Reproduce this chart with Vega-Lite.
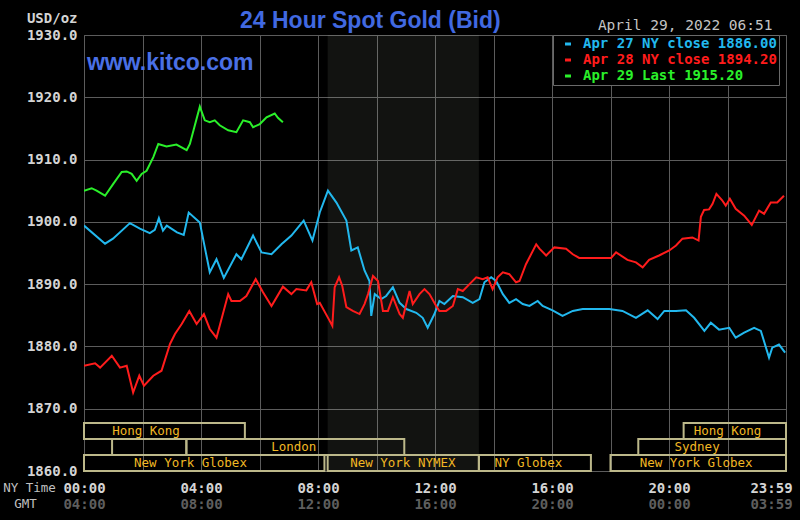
{
  "$schema": "https://vega.github.io/schema/vega-lite/v6.json",
  "width": 702,
  "height": 436,
  "autosize": {"type": "none"},
  "padding": {"left": 84, "top": 35, "right": 14, "bottom": 49},
  "background": "black",
  "title": {
    "text": "24 Hour Spot Gold (Bid)",
    "anchor": "start",
    "frame": "group",
    "dx": 156,
    "offset": -40,
    "baseline": "alphabetic",
    "font": "Liberation Sans",
    "fontSize": 23,
    "fontWeight": "bold",
    "color": "#4169e1"
  },
  "datasets": {
    "prices": [
      {"series": "Apr 27 NY close 1886.00", "t": 0, "p": 1899.4},
      {"series": "Apr 27 NY close 1886.00", "t": 0.72, "p": 1896.5},
      {"series": "Apr 27 NY close 1886.00", "t": 0.99, "p": 1897.3},
      {"series": "Apr 27 NY close 1886.00", "t": 1.57, "p": 1899.8},
      {"series": "Apr 27 NY close 1886.00", "t": 1.91, "p": 1898.9},
      {"series": "Apr 27 NY close 1886.00", "t": 2.25, "p": 1898.2},
      {"series": "Apr 27 NY close 1886.00", "t": 2.42, "p": 1898.7},
      {"series": "Apr 27 NY close 1886.00", "t": 2.56, "p": 1900.6},
      {"series": "Apr 27 NY close 1886.00", "t": 2.7, "p": 1898.6},
      {"series": "Apr 27 NY close 1886.00", "t": 2.83, "p": 1899.4},
      {"series": "Apr 27 NY close 1886.00", "t": 3.18, "p": 1898.3},
      {"series": "Apr 27 NY close 1886.00", "t": 3.41, "p": 1897.9},
      {"series": "Apr 27 NY close 1886.00", "t": 3.58, "p": 1901.5},
      {"series": "Apr 27 NY close 1886.00", "t": 3.96, "p": 1899.9},
      {"series": "Apr 27 NY close 1886.00", "t": 4.13, "p": 1895.9},
      {"series": "Apr 27 NY close 1886.00", "t": 4.3, "p": 1891.9},
      {"series": "Apr 27 NY close 1886.00", "t": 4.53, "p": 1894.0},
      {"series": "Apr 27 NY close 1886.00", "t": 4.78, "p": 1891.0},
      {"series": "Apr 27 NY close 1886.00", "t": 5.21, "p": 1894.8},
      {"series": "Apr 27 NY close 1886.00", "t": 5.38, "p": 1894.0},
      {"series": "Apr 27 NY close 1886.00", "t": 5.78, "p": 1897.8},
      {"series": "Apr 27 NY close 1886.00", "t": 6.07, "p": 1895.1},
      {"series": "Apr 27 NY close 1886.00", "t": 6.41, "p": 1894.8},
      {"series": "Apr 27 NY close 1886.00", "t": 6.75, "p": 1896.4},
      {"series": "Apr 27 NY close 1886.00", "t": 7.09, "p": 1897.8},
      {"series": "Apr 27 NY close 1886.00", "t": 7.51, "p": 1900.2},
      {"series": "Apr 27 NY close 1886.00", "t": 7.81, "p": 1897.0},
      {"series": "Apr 27 NY close 1886.00", "t": 8.06, "p": 1901.5},
      {"series": "Apr 27 NY close 1886.00", "t": 8.34, "p": 1905.0},
      {"series": "Apr 27 NY close 1886.00", "t": 8.63, "p": 1903.1},
      {"series": "Apr 27 NY close 1886.00", "t": 8.97, "p": 1900.2},
      {"series": "Apr 27 NY close 1886.00", "t": 9.14, "p": 1895.4},
      {"series": "Apr 27 NY close 1886.00", "t": 9.36, "p": 1895.9},
      {"series": "Apr 27 NY close 1886.00", "t": 9.59, "p": 1892.2},
      {"series": "Apr 27 NY close 1886.00", "t": 9.76, "p": 1890.5},
      {"series": "Apr 27 NY close 1886.00", "t": 9.82, "p": 1884.9},
      {"series": "Apr 27 NY close 1886.00", "t": 9.94, "p": 1888.4},
      {"series": "Apr 27 NY close 1886.00", "t": 10.16, "p": 1887.6},
      {"series": "Apr 27 NY close 1886.00", "t": 10.33, "p": 1888.1},
      {"series": "Apr 27 NY close 1886.00", "t": 10.56, "p": 1889.5},
      {"series": "Apr 27 NY close 1886.00", "t": 10.79, "p": 1887.0},
      {"series": "Apr 27 NY close 1886.00", "t": 11.02, "p": 1886.0},
      {"series": "Apr 27 NY close 1886.00", "t": 11.36, "p": 1885.4},
      {"series": "Apr 27 NY close 1886.00", "t": 11.58, "p": 1884.6},
      {"series": "Apr 27 NY close 1886.00", "t": 11.75, "p": 1883.0},
      {"series": "Apr 27 NY close 1886.00", "t": 11.98, "p": 1885.2},
      {"series": "Apr 27 NY close 1886.00", "t": 12.15, "p": 1887.3},
      {"series": "Apr 27 NY close 1886.00", "t": 12.32, "p": 1886.8},
      {"series": "Apr 27 NY close 1886.00", "t": 12.61, "p": 1888.1},
      {"series": "Apr 27 NY close 1886.00", "t": 12.95, "p": 1887.9},
      {"series": "Apr 27 NY close 1886.00", "t": 13.29, "p": 1887.0},
      {"series": "Apr 27 NY close 1886.00", "t": 13.52, "p": 1887.6},
      {"series": "Apr 27 NY close 1886.00", "t": 13.69, "p": 1890.3},
      {"series": "Apr 27 NY close 1886.00", "t": 13.92, "p": 1891.1},
      {"series": "Apr 27 NY close 1886.00", "t": 14.09, "p": 1890.5},
      {"series": "Apr 27 NY close 1886.00", "t": 14.32, "p": 1888.4},
      {"series": "Apr 27 NY close 1886.00", "t": 14.54, "p": 1887.0},
      {"series": "Apr 27 NY close 1886.00", "t": 14.77, "p": 1887.6},
      {"series": "Apr 27 NY close 1886.00", "t": 15.0, "p": 1886.8},
      {"series": "Apr 27 NY close 1886.00", "t": 15.23, "p": 1886.5},
      {"series": "Apr 27 NY close 1886.00", "t": 15.51, "p": 1887.3},
      {"series": "Apr 27 NY close 1886.00", "t": 15.68, "p": 1886.5},
      {"series": "Apr 27 NY close 1886.00", "t": 16.02, "p": 1885.8},
      {"series": "Apr 27 NY close 1886.00", "t": 16.36, "p": 1884.9},
      {"series": "Apr 27 NY close 1886.00", "t": 16.71, "p": 1885.7},
      {"series": "Apr 27 NY close 1886.00", "t": 17.05, "p": 1886.0},
      {"series": "Apr 27 NY close 1886.00", "t": 17.96, "p": 1886.0},
      {"series": "Apr 27 NY close 1886.00", "t": 18.41, "p": 1885.7},
      {"series": "Apr 27 NY close 1886.00", "t": 18.87, "p": 1884.6},
      {"series": "Apr 27 NY close 1886.00", "t": 19.27, "p": 1885.8},
      {"series": "Apr 27 NY close 1886.00", "t": 19.61, "p": 1884.4},
      {"series": "Apr 27 NY close 1886.00", "t": 19.84, "p": 1885.7},
      {"series": "Apr 27 NY close 1886.00", "t": 20.24, "p": 1885.7},
      {"series": "Apr 27 NY close 1886.00", "t": 20.58, "p": 1885.8},
      {"series": "Apr 27 NY close 1886.00", "t": 20.86, "p": 1884.6},
      {"series": "Apr 27 NY close 1886.00", "t": 21.21, "p": 1882.5},
      {"series": "Apr 27 NY close 1886.00", "t": 21.43, "p": 1883.8},
      {"series": "Apr 27 NY close 1886.00", "t": 21.71, "p": 1882.7},
      {"series": "Apr 27 NY close 1886.00", "t": 22.06, "p": 1883.0},
      {"series": "Apr 27 NY close 1886.00", "t": 22.28, "p": 1881.4},
      {"series": "Apr 27 NY close 1886.00", "t": 22.57, "p": 1882.2},
      {"series": "Apr 27 NY close 1886.00", "t": 22.91, "p": 1883.0},
      {"series": "Apr 27 NY close 1886.00", "t": 23.14, "p": 1882.5},
      {"series": "Apr 27 NY close 1886.00", "t": 23.42, "p": 1878.2},
      {"series": "Apr 27 NY close 1886.00", "t": 23.53, "p": 1879.8},
      {"series": "Apr 27 NY close 1886.00", "t": 23.76, "p": 1880.3},
      {"series": "Apr 27 NY close 1886.00", "t": 23.97, "p": 1879.0},
      {"series": "Apr 28 NY close 1894.20", "t": 0, "p": 1876.9},
      {"series": "Apr 28 NY close 1894.20", "t": 0.38, "p": 1877.3},
      {"series": "Apr 28 NY close 1894.20", "t": 0.55, "p": 1876.6},
      {"series": "Apr 28 NY close 1894.20", "t": 0.95, "p": 1878.5},
      {"series": "Apr 28 NY close 1894.20", "t": 1.23, "p": 1876.6},
      {"series": "Apr 28 NY close 1894.20", "t": 1.46, "p": 1876.9},
      {"series": "Apr 28 NY close 1894.20", "t": 1.68, "p": 1872.6},
      {"series": "Apr 28 NY close 1894.20", "t": 1.89, "p": 1875.3},
      {"series": "Apr 28 NY close 1894.20", "t": 2.05, "p": 1873.7},
      {"series": "Apr 28 NY close 1894.20", "t": 2.37, "p": 1875.3},
      {"series": "Apr 28 NY close 1894.20", "t": 2.65, "p": 1876.1},
      {"series": "Apr 28 NY close 1894.20", "t": 2.94, "p": 1880.4},
      {"series": "Apr 28 NY close 1894.20", "t": 3.11, "p": 1882.0},
      {"series": "Apr 28 NY close 1894.20", "t": 3.34, "p": 1883.6},
      {"series": "Apr 28 NY close 1894.20", "t": 3.6, "p": 1885.7},
      {"series": "Apr 28 NY close 1894.20", "t": 3.85, "p": 1883.6},
      {"series": "Apr 28 NY close 1894.20", "t": 4.1, "p": 1885.2},
      {"series": "Apr 28 NY close 1894.20", "t": 4.3, "p": 1882.8},
      {"series": "Apr 28 NY close 1894.20", "t": 4.53, "p": 1881.4},
      {"series": "Apr 28 NY close 1894.20", "t": 4.93, "p": 1888.4},
      {"series": "Apr 28 NY close 1894.20", "t": 5.04, "p": 1887.3},
      {"series": "Apr 28 NY close 1894.20", "t": 5.33, "p": 1887.3},
      {"series": "Apr 28 NY close 1894.20", "t": 5.55, "p": 1888.1},
      {"series": "Apr 28 NY close 1894.20", "t": 5.87, "p": 1890.8},
      {"series": "Apr 28 NY close 1894.20", "t": 6.12, "p": 1888.7},
      {"series": "Apr 28 NY close 1894.20", "t": 6.41, "p": 1886.5},
      {"series": "Apr 28 NY close 1894.20", "t": 6.8, "p": 1889.6},
      {"series": "Apr 28 NY close 1894.20", "t": 7.09, "p": 1888.4},
      {"series": "Apr 28 NY close 1894.20", "t": 7.26, "p": 1889.2},
      {"series": "Apr 28 NY close 1894.20", "t": 7.6, "p": 1889.0},
      {"series": "Apr 28 NY close 1894.20", "t": 7.77, "p": 1890.3},
      {"series": "Apr 28 NY close 1894.20", "t": 7.97, "p": 1886.8},
      {"series": "Apr 28 NY close 1894.20", "t": 8.06, "p": 1887.0},
      {"series": "Apr 28 NY close 1894.20", "t": 8.4, "p": 1884.1},
      {"series": "Apr 28 NY close 1894.20", "t": 8.49, "p": 1883.3},
      {"series": "Apr 28 NY close 1894.20", "t": 8.57, "p": 1889.5},
      {"series": "Apr 28 NY close 1894.20", "t": 8.72, "p": 1891.1},
      {"series": "Apr 28 NY close 1894.20", "t": 8.83, "p": 1889.7},
      {"series": "Apr 28 NY close 1894.20", "t": 8.97, "p": 1886.3},
      {"series": "Apr 28 NY close 1894.20", "t": 9.19, "p": 1885.7},
      {"series": "Apr 28 NY close 1894.20", "t": 9.42, "p": 1885.2},
      {"series": "Apr 28 NY close 1894.20", "t": 9.59, "p": 1886.8},
      {"series": "Apr 28 NY close 1894.20", "t": 9.71, "p": 1888.4},
      {"series": "Apr 28 NY close 1894.20", "t": 9.88, "p": 1891.3},
      {"series": "Apr 28 NY close 1894.20", "t": 10.05, "p": 1890.5},
      {"series": "Apr 28 NY close 1894.20", "t": 10.22, "p": 1885.7},
      {"series": "Apr 28 NY close 1894.20", "t": 10.39, "p": 1885.7},
      {"series": "Apr 28 NY close 1894.20", "t": 10.56, "p": 1887.9},
      {"series": "Apr 28 NY close 1894.20", "t": 10.79, "p": 1885.2},
      {"series": "Apr 28 NY close 1894.20", "t": 10.9, "p": 1884.6},
      {"series": "Apr 28 NY close 1894.20", "t": 11.13, "p": 1888.9},
      {"series": "Apr 28 NY close 1894.20", "t": 11.24, "p": 1886.8},
      {"series": "Apr 28 NY close 1894.20", "t": 11.47, "p": 1888.4},
      {"series": "Apr 28 NY close 1894.20", "t": 11.64, "p": 1889.2},
      {"series": "Apr 28 NY close 1894.20", "t": 11.81, "p": 1888.4},
      {"series": "Apr 28 NY close 1894.20", "t": 12.04, "p": 1886.5},
      {"series": "Apr 28 NY close 1894.20", "t": 12.15, "p": 1885.7},
      {"series": "Apr 28 NY close 1894.20", "t": 12.38, "p": 1885.7},
      {"series": "Apr 28 NY close 1894.20", "t": 12.61, "p": 1886.5},
      {"series": "Apr 28 NY close 1894.20", "t": 12.78, "p": 1889.2},
      {"series": "Apr 28 NY close 1894.20", "t": 12.95, "p": 1888.9},
      {"series": "Apr 28 NY close 1894.20", "t": 13.18, "p": 1890.0},
      {"series": "Apr 28 NY close 1894.20", "t": 13.41, "p": 1891.1},
      {"series": "Apr 28 NY close 1894.20", "t": 13.63, "p": 1890.8},
      {"series": "Apr 28 NY close 1894.20", "t": 13.8, "p": 1891.1},
      {"series": "Apr 28 NY close 1894.20", "t": 13.97, "p": 1889.2},
      {"series": "Apr 28 NY close 1894.20", "t": 14.14, "p": 1891.1},
      {"series": "Apr 28 NY close 1894.20", "t": 14.32, "p": 1891.9},
      {"series": "Apr 28 NY close 1894.20", "t": 14.54, "p": 1891.6},
      {"series": "Apr 28 NY close 1894.20", "t": 14.77, "p": 1890.3},
      {"series": "Apr 28 NY close 1894.20", "t": 14.89, "p": 1890.5},
      {"series": "Apr 28 NY close 1894.20", "t": 15.11, "p": 1893.2},
      {"series": "Apr 28 NY close 1894.20", "t": 15.46, "p": 1896.4},
      {"series": "Apr 28 NY close 1894.20", "t": 15.57, "p": 1895.7},
      {"series": "Apr 28 NY close 1894.20", "t": 15.8, "p": 1894.6},
      {"series": "Apr 28 NY close 1894.20", "t": 16.08, "p": 1895.9},
      {"series": "Apr 28 NY close 1894.20", "t": 16.48, "p": 1895.7},
      {"series": "Apr 28 NY close 1894.20", "t": 16.71, "p": 1894.8},
      {"series": "Apr 28 NY close 1894.20", "t": 16.93, "p": 1894.2},
      {"series": "Apr 28 NY close 1894.20", "t": 18.02, "p": 1894.2},
      {"series": "Apr 28 NY close 1894.20", "t": 18.19, "p": 1895.1},
      {"series": "Apr 28 NY close 1894.20", "t": 18.58, "p": 1893.9},
      {"series": "Apr 28 NY close 1894.20", "t": 18.87, "p": 1893.5},
      {"series": "Apr 28 NY close 1894.20", "t": 19.1, "p": 1892.7},
      {"series": "Apr 28 NY close 1894.20", "t": 19.32, "p": 1893.9},
      {"series": "Apr 28 NY close 1894.20", "t": 19.66, "p": 1894.6},
      {"series": "Apr 28 NY close 1894.20", "t": 20.01, "p": 1895.4},
      {"series": "Apr 28 NY close 1894.20", "t": 20.24, "p": 1896.2},
      {"series": "Apr 28 NY close 1894.20", "t": 20.46, "p": 1897.3},
      {"series": "Apr 28 NY close 1894.20", "t": 20.8, "p": 1897.5},
      {"series": "Apr 28 NY close 1894.20", "t": 21.01, "p": 1897.0},
      {"series": "Apr 28 NY close 1894.20", "t": 21.09, "p": 1900.8},
      {"series": "Apr 28 NY close 1894.20", "t": 21.2, "p": 1901.9},
      {"series": "Apr 28 NY close 1894.20", "t": 21.37, "p": 1902.0},
      {"series": "Apr 28 NY close 1894.20", "t": 21.49, "p": 1902.9},
      {"series": "Apr 28 NY close 1894.20", "t": 21.62, "p": 1904.5},
      {"series": "Apr 28 NY close 1894.20", "t": 21.81, "p": 1903.5},
      {"series": "Apr 28 NY close 1894.20", "t": 21.94, "p": 1902.6},
      {"series": "Apr 28 NY close 1894.20", "t": 22.08, "p": 1903.7},
      {"series": "Apr 28 NY close 1894.20", "t": 22.28, "p": 1902.1},
      {"series": "Apr 28 NY close 1894.20", "t": 22.57, "p": 1901.0},
      {"series": "Apr 28 NY close 1894.20", "t": 22.83, "p": 1899.5},
      {"series": "Apr 28 NY close 1894.20", "t": 23.08, "p": 1901.8},
      {"series": "Apr 28 NY close 1894.20", "t": 23.25, "p": 1901.3},
      {"series": "Apr 28 NY close 1894.20", "t": 23.48, "p": 1903.1},
      {"series": "Apr 28 NY close 1894.20", "t": 23.7, "p": 1903.1},
      {"series": "Apr 28 NY close 1894.20", "t": 23.93, "p": 1904.2},
      {"series": "Apr 29 Last 1915.20", "t": 0, "p": 1905.0},
      {"series": "Apr 29 Last 1915.20", "t": 0.26, "p": 1905.4},
      {"series": "Apr 29 Last 1915.20", "t": 0.43, "p": 1905.0},
      {"series": "Apr 29 Last 1915.20", "t": 0.72, "p": 1904.2},
      {"series": "Apr 29 Last 1915.20", "t": 1.0, "p": 1906.1},
      {"series": "Apr 29 Last 1915.20", "t": 1.29, "p": 1908.0},
      {"series": "Apr 29 Last 1915.20", "t": 1.46, "p": 1908.1},
      {"series": "Apr 29 Last 1915.20", "t": 1.63, "p": 1907.7},
      {"series": "Apr 29 Last 1915.20", "t": 1.8, "p": 1906.6},
      {"series": "Apr 29 Last 1915.20", "t": 1.97, "p": 1907.7},
      {"series": "Apr 29 Last 1915.20", "t": 2.14, "p": 1908.2},
      {"series": "Apr 29 Last 1915.20", "t": 2.37, "p": 1910.4},
      {"series": "Apr 29 Last 1915.20", "t": 2.54, "p": 1912.5},
      {"series": "Apr 29 Last 1915.20", "t": 2.82, "p": 1912.1},
      {"series": "Apr 29 Last 1915.20", "t": 3.16, "p": 1912.4},
      {"series": "Apr 29 Last 1915.20", "t": 3.51, "p": 1911.5},
      {"series": "Apr 29 Last 1915.20", "t": 3.62, "p": 1912.5},
      {"series": "Apr 29 Last 1915.20", "t": 3.79, "p": 1915.5},
      {"series": "Apr 29 Last 1915.20", "t": 3.96, "p": 1918.5},
      {"series": "Apr 29 Last 1915.20", "t": 4.13, "p": 1916.3},
      {"series": "Apr 29 Last 1915.20", "t": 4.3, "p": 1916.0},
      {"series": "Apr 29 Last 1915.20", "t": 4.47, "p": 1916.3},
      {"series": "Apr 29 Last 1915.20", "t": 4.64, "p": 1915.5},
      {"series": "Apr 29 Last 1915.20", "t": 4.93, "p": 1914.7},
      {"series": "Apr 29 Last 1915.20", "t": 5.21, "p": 1914.4},
      {"series": "Apr 29 Last 1915.20", "t": 5.44, "p": 1916.3},
      {"series": "Apr 29 Last 1915.20", "t": 5.67, "p": 1916.0},
      {"series": "Apr 29 Last 1915.20", "t": 5.78, "p": 1915.2},
      {"series": "Apr 29 Last 1915.20", "t": 6.01, "p": 1915.7},
      {"series": "Apr 29 Last 1915.20", "t": 6.24, "p": 1916.8},
      {"series": "Apr 29 Last 1915.20", "t": 6.52, "p": 1917.4},
      {"series": "Apr 29 Last 1915.20", "t": 6.63, "p": 1916.7},
      {"series": "Apr 29 Last 1915.20", "t": 6.8, "p": 1916.0}
    ],
    "sessions": [
      {"lane": "top", "start": 0, "end": 5.5, "label": "Hong Kong", "mid": 2.12},
      {"lane": "top", "start": 20.5, "end": 24, "label": "Hong Kong", "mid": 22.0},
      {"lane": "middle", "start": 0.96, "end": 3.5, "label": "", "mid": 2.2},
      {"lane": "middle", "start": 3.5, "end": 10.95, "label": "London", "mid": 7.17},
      {"lane": "middle", "start": 18.95, "end": 24, "label": "Sydney", "mid": 20.96},
      {"lane": "bottom", "start": 0, "end": 8.22, "label": "New York Globex", "mid": 3.64},
      {"lane": "bottom", "start": 8.33, "end": 13.5, "label": "New York NYMEX", "mid": 10.9},
      {"lane": "bottom", "start": 13.5, "end": 17.33, "label": "NY Globex", "mid": 15.19},
      {"lane": "bottom", "start": 18.0, "end": 24, "label": "New York Globex", "mid": 20.93}
    ]
  },
  "layer": [
    {
      "data": {"name": "sessions"},
      "transform": [{"filter": "datum.label == 'New York NYMEX'"}],
      "mark": {"type": "rect", "fill": "#e6f0dc", "opacity": 0.08},
      "encoding": {
        "x": {
          "field": "start", "type": "quantitative",
          "scale": {"domain": [0, 24], "nice": false, "zero": false},
          "axis": {
            "orient": "top", "labels": false, "ticks": false, "domain": false, "grid": false,
            "title": "April 29, 2022 06:51", "titleX": 688, "titleY": -6,
            "titleAlign": "right", "titleBaseline": "alphabetic", "titleAngle": 0,
            "titleFont": "DejaVu Sans Mono", "titleFontWeight": "normal", "titleFontSize": 14.5,
            "titleColor": "#c4c4c4"
          }
        },
        "x2": {"field": "end"}
      }
    },
    {
      "data": {"name": "sessions"},
      "mark": {"type": "rect", "fill": "black", "fillOpacity": 0, "stroke": "#bcb88a", "strokeWidth": 2},
      "encoding": {
        "x": {
          "field": "start", "type": "quantitative",
          "scale": {"domain": [0, 24], "nice": false, "zero": false},
          "axis": {
            "orient": "bottom", "values": [0, 4, 8, 12, 16, 20, 24], "grid": false,
            "labelExpr": "datum.value == 24 ? '03:59' : (((datum.value + 4) % 24) < 10 ? '0' : '') + ((datum.value + 4) % 24) + ':00'",
            "labelColor": "#5e5e5e", "labelFlush": false, "labelOverlap": false, "labelBound": false,
            "labelBaseline": "top", "labelPadding": 26,
            "labelOffset": {"condition": {"test": "datum.value == 24", "value": -15}, "value": 0},
            "title": "GMT", "titleX": -59, "titleY": 32, "titleAlign": "center", "titleBaseline": "middle",
            "titleFont": "DejaVu Sans Mono", "titleFontWeight": "normal", "titleFontSize": 12.5, "titleColor": "#c0c0c0"
          }
        },
        "x2": {"field": "end"},
        "y": {
          "field": "lane", "type": "nominal",
          "scale": {"domain": ["top", "middle", "bottom"], "range": [388, 436], "paddingInner": 0, "paddingOuter": 0},
          "axis": null
        }
      }
    },
    {
      "data": {"name": "sessions"},
      "mark": {"type": "text", "font": "DejaVu Sans Mono", "fontSize": 12.5, "fill": "#f2b824", "baseline": "middle", "align": "center"},
      "encoding": {
        "x": {"field": "mid", "type": "quantitative", "scale": {"domain": [0, 24], "nice": false, "zero": false}, "axis": null},
        "y": {
          "field": "lane", "type": "nominal",
          "scale": {"domain": ["top", "middle", "bottom"], "range": [388, 436], "paddingInner": 0, "paddingOuter": 0},
          "axis": null
        },
        "text": {"field": "label"}
      }
    },
    {
      "data": {"name": "prices"},
      "mark": {"type": "line", "strokeWidth": 2, "clip": true},
      "encoding": {
        "x": {
          "field": "t", "type": "quantitative",
          "scale": {"domain": [0, 24], "nice": false, "zero": false},
          "axis": {
            "orient": "bottom", "values": [0, 2, 4, 6, 8, 10, 12, 14, 16, 18, 20, 22, 24], "grid": true,
            "labelExpr": "datum.value % 4 != 0 ? '' : (datum.value == 24 ? '23:59' : (datum.value < 10 ? '0' : '') + datum.value + ':00')",
            "labelColor": "#d4d4d4", "labelFlush": false, "labelOverlap": false, "labelBound": false,
            "labelBaseline": "top", "labelPadding": 10,
            "labelOffset": {"condition": {"test": "datum.value == 24", "value": -15}, "value": 0},
            "title": "NY Time", "titleX": -55, "titleY": 16, "titleAlign": "center", "titleBaseline": "middle",
            "titleFont": "DejaVu Sans Mono", "titleFontWeight": "normal", "titleFontSize": 12.5, "titleColor": "#c0c0c0"
          }
        },
        "y": {
          "field": "p", "type": "quantitative",
          "scale": {"domain": [1860, 1930], "nice": false, "zero": false},
          "axis": {
            "values": [1860, 1870, 1880, 1890, 1900, 1910, 1920, 1930], "grid": true, "format": ".1f",
            "labelPadding": 7, "labelBaseline": "middle", "labelColor": "#d4d4d4",
            "title": "USD/oz", "titleAngle": 0, "titleAlign": "right", "titleBaseline": "alphabetic",
            "titleX": -7, "titleY": -13, "titleFont": "DejaVu Sans Mono", "titleFontWeight": "bold",
            "titleFontSize": 14, "titleColor": "#d4d4d4"
          }
        },
        "color": {
          "field": "series", "type": "nominal",
          "scale": {
            "domain": ["Apr 27 NY close 1886.00", "Apr 28 NY close 1894.20", "Apr 29 Last 1915.20"],
            "range": ["#22b8ee", "#ff1c1c", "#2af02a"]
          },
          "legend": {
            "title": null, "orient": "none", "legendX": 469, "legendY": 0, "direction": "vertical",
            "fillColor": "black", "strokeColor": "#6a6a6a", "padding": 2,
            "symbolType": "stroke", "symbolSize": 36, "symbolStrokeWidth": 3, "symbolOffset": 6,
            "labelOffset": 8, "labelFont": "DejaVu Sans Mono", "labelFontWeight": "bold",
            "labelFontSize": 14, "rowPadding": 2, "labelLimit": 400,
            "encode": {"labels": {"update": {"fill": {"scale": "color", "field": "value"}}}}
          }
        }
      }
    },
    {
      "data": {"values": [{}]},
      "mark": {"type": "text", "text": "www.kitco.com", "font": "Liberation Sans", "fontWeight": "bold", "fontSize": 23, "fill": "#4a70e6", "align": "left", "baseline": "alphabetic"},
      "encoding": {
        "x": {"datum": 0.1, "type": "quantitative", "scale": {"domain": [0, 24], "nice": false, "zero": false}, "axis": null},
        "y": {"datum": 1924.4, "type": "quantitative", "scale": {"domain": [1860, 1930], "nice": false, "zero": false}, "axis": null}
      }
    }
  ],
  "resolve": {
    "scale": {"y": "independent"},
    "axis": {"x": "independent", "y": "independent"}
  },
  "config": {
    "view": {"stroke": "#606060", "strokeWidth": 1},
    "axis": {
      "labelFont": "DejaVu Sans Mono", "labelFontWeight": "bold", "labelFontSize": 14,
      "ticks": false, "domain": false, "gridColor": "#5c5c5c", "gridOpacity": 1, "gridWidth": 1
    }
  }
}
